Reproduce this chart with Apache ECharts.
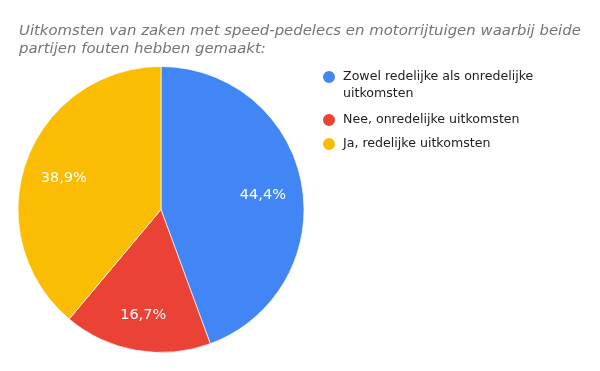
<!DOCTYPE html>
<html><head><meta charset="utf-8">
<script src="https://cdn.jsdelivr.net/npm/echarts@6/dist/echarts.min.js"></script>
<style>html,body{margin:0;padding:0;background:#fff}#c{width:600px;height:371px}</style>
</head><body><div id="c"></div>
<script>
const titleLines = ['Uitkomsten van zaken met speed-pedelecs en motorrijtuigen waarbij beide', 'partijen fouten hebben gemaakt:'];
const categories = ['Zowel redelijke als onredelijke uitkomsten', 'Nee, onredelijke uitkomsten', 'Ja, redelijke uitkomsten'];
const values = [44.4, 16.7, 38.9];
const colors = ['#4285F4', '#EA4335', '#FBBC04'];

const data = categories.map((c, i) => ({ name: c, value: values[i] }));
const FONT = 'DejaVu Sans';
const legendText = { fontFamily: FONT, fontSize: 12.6, color: '#222222', padding: [0, 0, 0, 2] };

const chart = echarts.init(document.getElementById('c'), null, { renderer: 'canvas' });
chart.setOption({
  animation: false,
  color: colors,
  title: {
    text: titleLines.join('\n'),
    left: 14, top: 17,
    textStyle: { fontFamily: FONT, fontSize: 14.9, fontStyle: 'italic', fontWeight: 'normal', color: '#757575', lineHeight: 18 }
  },
  legend: [
    {
      data: [categories[0]], left: 321, top: 69, orient: 'vertical', padding: 0,
      icon: 'circle', itemWidth: 14, itemHeight: 14, itemGap: 10,
      formatter: () => 'Zowel redelijke als onredelijke',
      textStyle: legendText
    },
    {
      data: [categories[1], categories[2]], left: 321, top: 112, orient: 'vertical', padding: 0,
      icon: 'circle', itemWidth: 14, itemHeight: 14, itemGap: 8,
      textStyle: legendText
    }
  ],
  graphic: [{
    type: 'text', left: 343, top: 87,
    style: { text: 'uitkomsten', font: '12.6px ' + FONT, fill: '#222222' }
  }],
  series: [
    {
      type: 'pie', center: [161, 209.5], radius: [0, 143], startAngle: 90, clockwise: true,
      data: data, label: { show: false }, labelLine: { show: false },
      itemStyle: { borderColor: '#ffffff', borderWidth: 0.7 },
      emphasis: { disabled: true }, silent: true
    },
    {
      type: 'pie', center: [161, 209.5], radius: [58, 143], startAngle: 90, clockwise: true,
      data: data,
      itemStyle: { color: 'rgba(0,0,0,0)' },
      label: {
        show: true, position: 'inside', color: '#ffffff', fontFamily: FONT, fontSize: 14.5,
        offset: [0, 4],
        formatter: p => String(p.value).replace('.', ',') + '%'
      },
      labelLine: { show: false }, emphasis: { disabled: true }, silent: true
    }
  ]
});
</script></body></html>
